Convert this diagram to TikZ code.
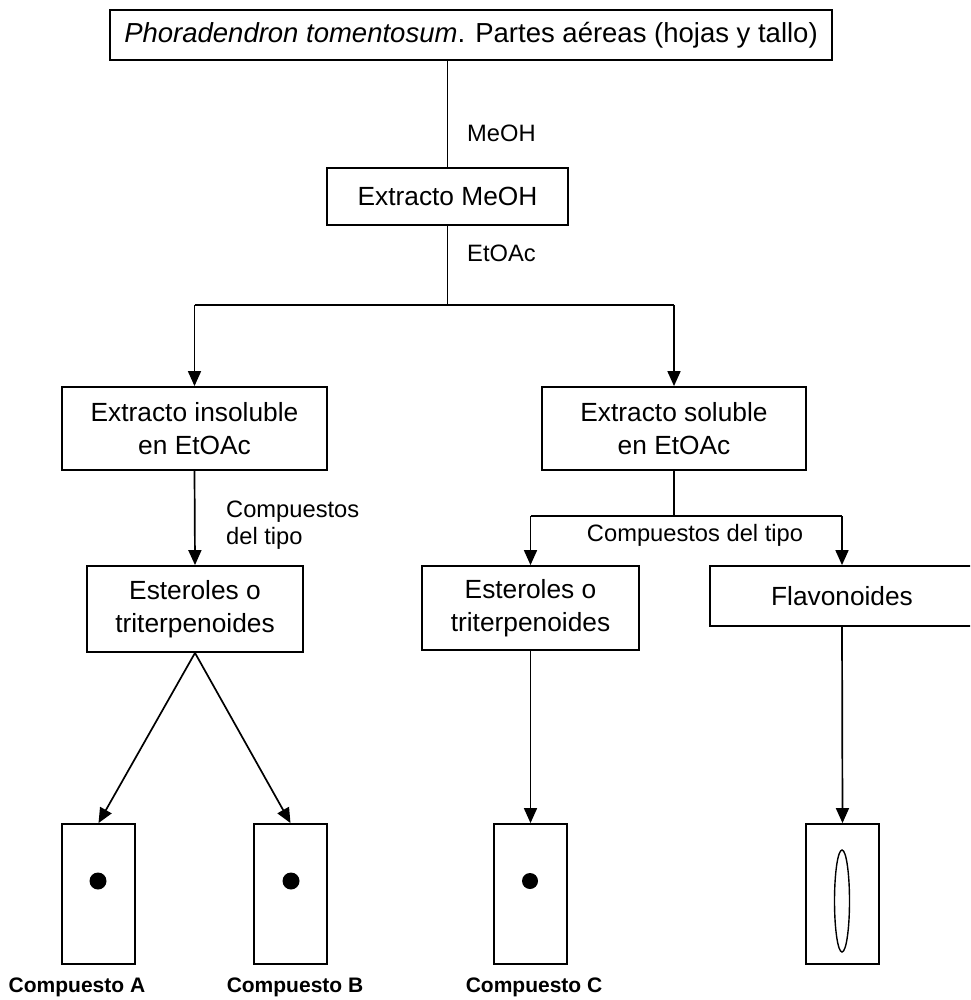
\documentclass[tikz,border=0pt]{standalone}
\usepackage{fontspec}
\setmainfont{Liberation Sans}
\usetikzlibrary{arrows.meta}
\begin{document}
\begin{tikzpicture}[x=1pt,y=-1pt,
  boxtext/.style={font=\fontsize{26.3pt}{33pt}\selectfont},
  labtext/.style={font=\fontsize{23.7pt}{27pt}\selectfont},
  captext/.style={font=\fontsize{21pt}{25pt}\selectfont\bfseries},
  stagebox/.style={draw, line width=1.8pt, inner sep=0pt, align=center, boxtext},
  plate/.style={draw, line width=1.8pt, inner sep=0pt, minimum width=73pt, minimum height=140pt},
  link/.style={line width=1.7pt},
  arr/.style={line width=1.7pt, -{Triangle[length=15pt,width=13pt]}}]
\useasboundingbox (0,0) rectangle (970,1000);
\clip (0,0) rectangle (970,1000);

% boxes of the extraction scheme
\node[stagebox, minimum width=722pt, minimum height=50pt,
      font=\fontsize{27.5pt}{33pt}\selectfont] (top) at (471,35)
  {\textit{Phoradendron tomentosum}. Partes aéreas (hojas y tallo)};
\node[stagebox, minimum width=241pt, minimum height=57pt] (meoh) at (447.5,196.5) {Extracto MeOH};
\node[stagebox, minimum width=265pt, minimum height=83pt] (insol) at (194.5,428.5) {Extracto insoluble\\en EtOAc};
\node[stagebox, minimum width=264pt, minimum height=83pt] (sol) at (674,428.5) {Extracto soluble\\en EtOAc};
\node[stagebox, minimum width=216pt, minimum height=86pt] (est1) at (195,609) {Esteroles o\\triterpenoides};
\node[stagebox, minimum width=217pt, minimum height=84pt] (est2) at (530.5,608) {Esteroles o\\triterpenoides};
\node[stagebox, minimum width=264pt, minimum height=60pt] (flav) at (842,596) {Flavonoides};

% TLC plates
\node[plate] (pA) at (98.5,894) {};
\node[plate] (pB) at (290.5,894) {};
\node[plate] (pC) at (530.5,894) {};
\node[plate] (pD) at (842.5,894) {};
\fill (98,881) ellipse [x radius=8.5pt, y radius=8.5pt];
\fill (291,881) ellipse [x radius=8.5pt, y radius=8.5pt];
\fill (530,881) ellipse [x radius=8pt, y radius=8pt];
\draw[line width=1.4pt] (842,901) ellipse [x radius=7.5pt, y radius=51pt];

% connectors
\coordinate (split1) at (447.5,305);
\coordinate (split2) at (674,516);
\draw[link] (meoh.north |- top.south) -- (meoh.north);
\draw[link] (meoh.south) -- (split1);
\draw[link] (insol.north |- split1) -- (sol.north |- split1);
\draw[arr] (insol.north |- split1) -- (insol.north);
\draw[arr] (sol.north |- split1) -- (sol.north);
\draw[arr] (insol.south) -- (est1.north);
\draw[link] (sol.south) -- (split2);
\draw[link] (est2.north |- split2) -- (flav.north |- split2);
\draw[arr] (est2.north |- split2) -- (est2.north);
\draw[arr] (flav.north |- split2) -- (flav.north);
\draw[arr] (est1.south) -- (pA.north);
\draw[arr] (est1.south) -- (pB.north);
\draw[arr] (est2.south) -- (pC.north);
\draw[arr] (flav.south) -- (pD.north);

% labels
\node[labtext, anchor=west, inner sep=0pt] (lmeoh) at (467,133) {MeOH};
\node[labtext, anchor=west, inner sep=0pt] (letoac) at (467,253) {EtOAc};
\node[labtext, anchor=west, align=left, inner sep=0pt] (ltipo1) at (226,525) {Compuestos\\del tipo};
\node[labtext, inner sep=0pt] (ltipo2) at (695,535) {Compuestos del tipo};
\node[captext, inner sep=0pt] (cA) at (77,987) {Compuesto A};
\node[captext, inner sep=0pt] (cB) at (295,987) {Compuesto B};
\node[captext, inner sep=0pt] (cC) at (534,987) {Compuesto C};
\end{tikzpicture}
\end{document}
